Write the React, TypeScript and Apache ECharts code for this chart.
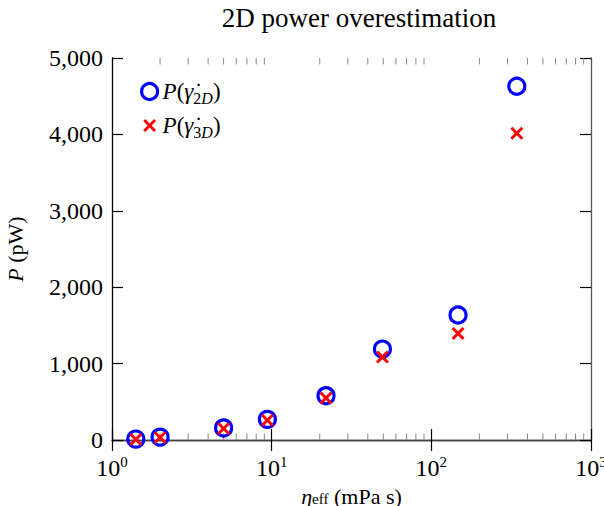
import React, { useEffect, useRef } from "react";
import * as echarts from "echarts";

const etaEff = [1.41, 2.0, 5.0, 9.4, 21.9, 49.4, 147, 343];
const power2D = [12, 38, 158, 270, 580, 1190, 1636, 4630];
const power3D = [8, 33, 150, 258, 550, 1085, 1395, 4015];
const minorTicks = [2, 3, 4, 5, 6, 7, 8, 9, 20, 30, 40, 50, 60, 70, 80, 90, 200, 300, 400, 500, 600, 700, 800, 900];
const yTicks = [0, 1000, 2000, 3000, 4000, 5000];

const FONT = "Liberation Serif";
const CROSS = "path://M1.6,0 L5,3.4 L8.4,0 L10,1.6 L6.6,5 L10,8.4 L8.4,10 L5,6.6 L1.6,10 L0,8.4 L3.4,5 L0,1.6 Z";
const CROSS_LEGEND = "path://M-1.2,-1.2 M11.2,11.2 M1.6,0 L5,3.4 L8.4,0 L10,1.6 L6.6,5 L10,8.4 L8.4,10 L5,6.6 L1.6,10 L0,8.4 L3.4,5 L0,1.6 Z";

export default function App() {
  const ref = useRef<HTMLDivElement>(null);
  useEffect(() => {
    if (!ref.current) return;
    const chart = echarts.init(ref.current, null, { renderer: "svg" });
    const fmtNum = (v: number) => String(Math.round(v)).replace(/\B(?=(\d{3})+(?!\d))/g, ",");
    const richLabel = {
      sup: { fontFamily: FONT, fontSize: 15, color: "#000", verticalAlign: "bottom", padding: [0, 0, 12, 0] },
    };
    chart.setOption({
      animation: false,
      backgroundColor: "#fff",
      title: {
        text: "2D power overestimation",
        left: 354,
        top: -1,
        textAlign: "center",
        textStyle: { fontFamily: FONT, fontSize: 27, fontWeight: "normal", color: "#000" },
      },
      grid: { left: 112, right: 13, top: 58, bottom: 66, outerBoundsMode: "none", containLabel: false },
      legend: {
        data: [
          { name: "P2D", icon: "circle", itemStyle: { color: "rgba(0,0,0,0)", borderColor: "#0000ff", borderWidth: 3.2 } },
          { name: "P3D", icon: CROSS_LEGEND, itemStyle: { color: "#ff0000", borderWidth: 0 } },
        ],
        orient: "vertical",
        left: 135,
        top: 75,
        itemWidth: 16,
        itemHeight: 16,
        itemGap: 8,
        formatter: (name: string) =>
          name === "P2D"
            ? "{i|P}{n|(}{i|γ\u0307}{s|2}{si|D}{n|)}"
            : "{i|P}{n|(}{i|γ\u0307}{s|3}{si|D}{n|)}",
        textStyle: {
          fontFamily: FONT,
          fontSize: 23,
          color: "#000",
          rich: {
            i: { fontFamily: FONT, fontSize: 23, fontStyle: "italic", color: "#000", lineHeight: 23 },
            n: { fontFamily: FONT, fontSize: 23, color: "#000", lineHeight: 23 },
            s: { fontFamily: FONT, fontSize: 16, color: "#000", verticalAlign: "top", padding: [10, 0, 0, 0], lineHeight: 23 },
            si: { fontFamily: FONT, fontSize: 16, fontStyle: "italic", color: "#000", verticalAlign: "top", padding: [10, 0, 0, 0], lineHeight: 23 },
          },
        },
      },
      xAxis: [
        {
          type: "log",
          logBase: 10,
          min: 1,
          max: 1000,
          name: "{i|η}{s|eff} (mPa s)",
          nameLocation: "middle",
          nameGap: 35,
          nameTextStyle: {
            fontFamily: FONT,
            fontSize: 22,
            color: "#000",
            lineHeight: 24,
            rich: {
              i: { fontFamily: FONT, fontSize: 22, fontStyle: "italic", color: "#000", lineHeight: 24 },
              s: { fontFamily: FONT, fontSize: 15, color: "#000", lineHeight: 24, verticalAlign: "top", padding: [7, 0, 0, 0] },
            },
          },
          axisLine: { show: true, lineStyle: { color: "#444", width: 1.3 } },
          axisTick: { show: true, inside: true, length: 11, lineStyle: { color: "#000", width: 1.2 } },
          axisLabel: {
            fontFamily: FONT,
            fontSize: 24,
            color: "#000",
            margin: 14,
            formatter: (v: number) => "10{sup|" + Math.round(Math.log10(v)) + "}",
            rich: richLabel,
          },
          splitLine: { show: false },
        },
        {
          type: "log",
          logBase: 10,
          min: 1,
          max: 1000,
          position: "top",
          axisLine: { show: true, lineStyle: { color: "#444", width: 1.3 } },
          axisTick: { show: true, inside: true, length: 11, lineStyle: { color: "#000", width: 1.2 } },
          axisLabel: { show: false },
          splitLine: { show: false },
        },
      ],
      yAxis: [
        {
          type: "value",
          min: 0,
          max: 5000,
          interval: 1000,
          name: "{i|P} (pW)",
          nameLocation: "middle",
          nameGap: 86,
          nameRotate: 90,
          nameTextStyle: {
            fontFamily: FONT,
            fontSize: 22,
            color: "#000",
            rich: {
              i: { fontFamily: FONT, fontSize: 22, fontStyle: "italic", color: "#000" },
            },
          },
          axisLine: { show: true, lineStyle: { color: "#000", width: 1.3 } },
          axisTick: { show: true, inside: true, length: 11, lineStyle: { color: "#000", width: 1.2 } },
          axisLabel: {
            fontFamily: FONT,
            fontSize: 24,
            color: "#000",
            margin: 9,
            formatter: (v: number) => (yTicks.includes(v) ? fmtNum(v) : ""),
          },
          splitLine: { show: false },
        },
        {
          type: "value",
          min: 0,
          max: 5000,
          interval: 1000,
          position: "right",
          axisLine: { show: true, lineStyle: { color: "#555", width: 1.3 } },
          axisTick: { show: true, inside: true, length: 11, lineStyle: { color: "#000", width: 1.2 } },
          axisLabel: { show: false },
          splitLine: { show: false },
        },
      ],
      series: [
        {
          type: "custom",
          name: "minor",
          silent: true,
          clip: false,
          xAxisIndex: 0,
          yAxisIndex: 0,
          data: minorTicks.map((v) => [v, 0]),
          renderItem: (_params: any, api: any) => {
            const x = api.coord([api.value(0), 0])[0];
            const yb = api.coord([1, 0])[1];
            const yt = api.coord([1, 5000])[1];
            return {
              type: "group",
              children: [
                { type: "line", shape: { x1: x, y1: yb, x2: x, y2: yb - 6.5 }, style: { stroke: "#888", lineWidth: 1 } },
                { type: "line", shape: { x1: x, y1: yt, x2: x, y2: yt + 6.5 }, style: { stroke: "#888", lineWidth: 1 } },
              ],
            };
          },
        },
        {
          type: "scatter",
          name: "P2D",
          data: etaEff.map((x, i) => [x, power2D[i]]),
          symbol: "circle",
          symbolSize: 16,
          itemStyle: { color: "rgba(0,0,0,0)", borderColor: "#0000ff", borderWidth: 3.2, opacity: 1 },
          z: 3,
        },
        {
          type: "scatter",
          name: "P3D",
          data: etaEff.map((x, i) => [x, power3D[i]]),
          symbol: CROSS,
          symbolSize: 13,
          itemStyle: { color: "#ff0000", opacity: 1 },
          z: 4,
        },
      ],
    });
    return () => chart.dispose();
  }, []);
  return <div ref={ref} style={{ position: "fixed", left: 0, top: 0, width: 604, height: 506 }} />;
}
